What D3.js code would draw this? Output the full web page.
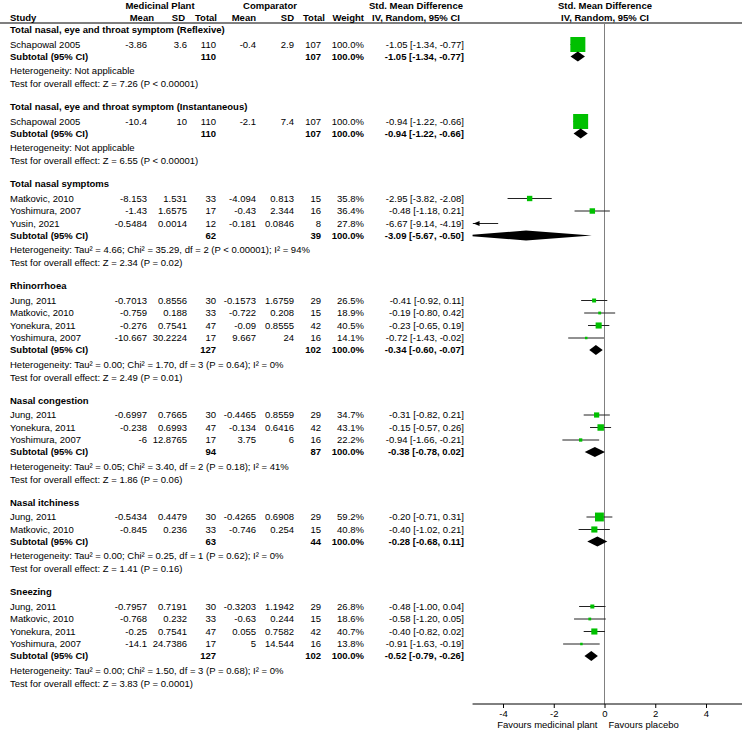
<!DOCTYPE html>
<html>
<head>
<meta charset="utf-8">
<script src="https://cdn.jsdelivr.net/npm/d3@7"></script>
<style>
  body { margin: 0; background: #fff; }
  text { font-family: "Liberation Sans", Arial, sans-serif; font-size: 9.5px; fill: #000; }
  .b { font-weight: bold; }
</style>
</head>
<body>
<div id="chart"></div>
<script>
// subgroups
var groupNames = [
  "Total nasal, eye and throat symptom (Reflexive)",
  "Total nasal, eye and throat symptom (Instantaneous)",
  "Total nasal symptoms",
  "Rhinorrhoea",
  "Nasal congestion",
  "Nasal itchiness",
  "Sneezing"
];

// studies (flat list, studyGroup says which subgroup)
var studyNames = [
  "Schapowal 2005",
  "Schapowal 2005",
  "Matkovic, 2010", "Yoshimura, 2007", "Yusin, 2021",
  "Jung, 2011", "Matkovic, 2010", "Yonekura, 2011", "Yoshimura, 2007",
  "Jung, 2011", "Yonekura, 2011", "Yoshimura, 2007",
  "Jung, 2011", "Matkovic, 2010",
  "Jung, 2011", "Matkovic, 2010", "Yonekura, 2011", "Yoshimura, 2007"
];
var studyGroup = [0, 1, 2, 2, 2, 3, 3, 3, 3, 4, 4, 4, 5, 5, 6, 6, 6, 6];

var mpMean = [-3.86, -10.4, -8.153, -1.43, -0.5484, -0.7013, -0.759, -0.276, -10.667,
  -0.6997, -0.238, -6, -0.5434, -0.845, -0.7957, -0.768, -0.25, -14.1];
var mpSD = [3.6, 10, 1.531, 1.6575, 0.0014, 0.8556, 0.188, 0.7541, 30.2224,
  0.7665, 0.6993, 12.8765, 0.4479, 0.236, 0.7191, 0.232, 0.7541, 24.7386];
var mpN = [110, 110, 33, 17, 12, 30, 33, 47, 17, 30, 47, 17, 30, 33, 30, 33, 47, 17];
var cMean = [-0.4, -2.1, -4.094, -0.43, -0.181, -0.1573, -0.722, -0.09, 9.667,
  -0.4465, -0.134, 3.75, -0.4265, -0.746, -0.3203, -0.63, 0.055, 5];
var cSD = [2.9, 7.4, 0.813, 2.344, 0.0846, 1.6759, 0.208, 0.8555, 24,
  0.8559, 0.6416, 6, 0.6908, 0.254, 1.1942, 0.244, 0.7582, 14.544];
var cN = [107, 107, 15, 16, 8, 29, 15, 42, 16, 29, 42, 16, 29, 15, 29, 15, 42, 16];
var weights = [100.0, 100.0, 35.8, 36.4, 27.8, 26.5, 18.9, 40.5, 14.1,
  34.7, 43.1, 22.2, 59.2, 40.8, 26.8, 18.6, 40.7, 13.8];
var smd = [-1.05, -0.94, -2.95, -0.48, -6.67, -0.41, -0.19, -0.23, -0.72,
  -0.31, -0.15, -0.94, -0.20, -0.40, -0.48, -0.58, -0.40, -0.91];
var ciLow = [-1.34, -1.22, -3.82, -1.18, -9.14, -0.92, -0.80, -0.65, -1.43,
  -0.82, -0.57, -1.66, -0.71, -1.02, -1.00, -1.20, -0.82, -1.63];
var ciHigh = [-0.77, -0.66, -2.08, 0.21, -4.19, 0.11, 0.42, 0.19, -0.02,
  0.21, 0.26, -0.21, 0.31, 0.21, 0.04, 0.05, 0.02, -0.19];

// subtotals
var subMpN = [110, 110, 62, 127, 94, 63, 127];
var subCN = [107, 107, 39, 102, 87, 44, 102];
var subSmd = [-1.05, -0.94, -3.09, -0.34, -0.38, -0.28, -0.52];
var subLow = [-1.34, -1.22, -5.67, -0.60, -0.78, -0.68, -0.79];
var subHigh = [-0.77, -0.66, -0.50, -0.07, 0.02, 0.11, -0.26];
var hetText = [
  "Heterogeneity: Not applicable",
  "Heterogeneity: Not applicable",
  "Heterogeneity: Tau² = 4.66; Chi² = 35.29, df = 2 (P < 0.00001); I² = 94%",
  "Heterogeneity: Tau² = 0.00; Chi² = 1.70, df = 3 (P = 0.64); I² = 0%",
  "Heterogeneity: Tau² = 0.05; Chi² = 3.40, df = 2 (P = 0.18); I² = 41%",
  "Heterogeneity: Tau² = 0.00; Chi² = 0.25, df = 1 (P = 0.62); I² = 0%",
  "Heterogeneity: Tau² = 0.00; Chi² = 1.50, df = 3 (P = 0.68); I² = 0%"
];
var testText = [
  "Test for overall effect: Z = 7.26 (P < 0.00001)",
  "Test for overall effect: Z = 6.55 (P < 0.00001)",
  "Test for overall effect: Z = 2.34 (P = 0.02)",
  "Test for overall effect: Z = 2.49 (P = 0.01)",
  "Test for overall effect: Z = 1.86 (P = 0.06)",
  "Test for overall effect: Z = 1.41 (P = 0.16)",
  "Test for overall effect: Z = 3.83 (P = 0.0001)"
];

var axisTicks = [-4, -2, 0, 2, 4];
var favourLeft = "Favours medicinal plant";
var favourRight = "Favours placebo";

var width = 742, height = 730;
var svg = d3.select("#chart").append("svg")
  .attr("width", width).attr("height", height);

var x = d3.scaleLinear().domain([-4, 4]).range([503, 706]);
var axisY = 704;
var plotLeft = x(-5.2), plotRight = width;

// column right edges
var col = { mpMean: 147, mpSD: 187, mpN: 216, cMean: 256, cSD: 294, cN: 321, w: 364, est: 464 };

function txt(px, py, s, anchor, bold) {
  return svg.append("text").attr("x", px).attr("y", py).attr("dy", "0.35em")
    .attr("text-anchor", anchor || "start").attr("class", bold ? "b" : null).text(s);
}

// header
txt(160, 6, "Medicinal Plant", "middle", true);
txt(270, 6, "Comparator", "middle", true);
txt(416, 6, "Std. Mean Difference", "middle", true);
txt(605, 6, "Std. Mean Difference", "middle", true);
txt(10, 18, "Study", "start", true);
txt(154, 18, "Mean", "end", true);
txt(185, 18, "SD", "end", true);
txt(col.mpN + 1, 18, "Total", "end", true);
txt(col.cMean, 18, "Mean", "end", true);
txt(col.cSD, 18, "SD", "end", true);
txt(col.cN + 4, 18, "Total", "end", true);
txt(col.w, 18, "Weight", "end", true);
txt(416, 18, "IV, Random, 95% CI", "middle", true);
txt(605, 18, "IV, Random, 95% CI", "middle", true);
svg.append("line").attr("x1", 0).attr("x2", width).attr("y1", 23).attr("y2", 23)
  .attr("stroke", "#000").attr("stroke-width", 1.2);

// zero line
svg.append("line").attr("x1", x(0)).attr("x2", x(0)).attr("y1", 23).attr("y2", axisY)
  .attr("stroke", "#808080").attr("stroke-width", 1);

svg.append("clipPath").attr("id", "plotClip").append("rect")
  .attr("x", plotLeft).attr("y", 0).attr("width", plotRight - plotLeft).attr("height", height);
var plot = svg.append("g").attr("clip-path", "url(#plotClip)");

function f2(v) { return v.toFixed(2); }
function ciStr(e, l, h) { return f2(e) + " [" + f2(l) + ", " + f2(h) + "]"; }

// rows
var y = 30;
groupNames.forEach(function (g, gi) {
  txt(10, y, g, "start", true);
  y += 14.5;
  studyNames.forEach(function (s, i) {
    if (studyGroup[i] !== gi) return;
    txt(10, y, s);
    txt(col.mpMean, y, String(mpMean[i]), "end");
    txt(col.mpSD, y, String(mpSD[i]), "end");
    txt(col.mpN, y, String(mpN[i]), "end");
    txt(col.cMean, y, String(cMean[i]), "end");
    txt(col.cSD, y, String(cSD[i]), "end");
    txt(col.cN, y, String(cN[i]), "end");
    txt(col.w, y, weights[i].toFixed(1) + "%", "end");
    txt(col.est, y, ciStr(smd[i], ciLow[i], ciHigh[i]), "end");

    // CI line, arrow when it runs off the left edge
    var lo = Math.max(ciLow[i], x.invert(plotLeft));
    plot.append("line").attr("x1", x(lo)).attr("x2", x(ciHigh[i]))
      .attr("y1", y).attr("y2", y).attr("stroke", "#222").attr("stroke-width", 1);
    if (ciLow[i] < x.invert(plotLeft)) {
      plot.append("path")
        .attr("d", "M" + (plotLeft + 1) + "," + y + "l6,-2.5l0,5z").attr("fill", "#000");
    }
    var side = Math.max(2.5, 15 * weights[i] / 100);
    if (smd[i] > x.invert(plotLeft)) {
      plot.append("rect").attr("x", x(smd[i]) - side / 2).attr("y", y - side / 2)
        .attr("width", side).attr("height", side).attr("fill", "#00c000");
    }
    y += 12.5;
  });
  y -= 0.5;
  txt(10, y, "Subtotal (95% CI)", "start", true);
  txt(col.mpN, y, String(subMpN[gi]), "end", true);
  txt(col.cN, y, String(subCN[gi]), "end", true);
  txt(col.w, y, "100.0%", "end", true);
  txt(col.est, y, ciStr(subSmd[gi], subLow[gi], subHigh[gi]), "end", true);
  plot.append("path")
    .attr("d", "M" + x(subLow[gi]) + "," + y + "L" + x(subSmd[gi]) + "," + (y - 5) +
      "L" + x(subHigh[gi]) + "," + y + "L" + x(subSmd[gi]) + "," + (y + 5) + "Z")
    .attr("fill", "#000");
  y += 14.5;
  txt(10, y, hetText[gi]);
  y += 13;
  txt(10, y, testText[gi]);
  y += 23;
});

// axis
var axis = d3.axisBottom(x).tickValues(axisTicks).tickSize(4).tickPadding(2)
  .tickFormat(function (d) { return String(d); });
var ag = svg.append("g").attr("transform", "translate(0," + axisY + ")").call(axis);
ag.select(".domain").attr("d", "M" + plotLeft + ",0H" + plotRight).attr("stroke", "#000");
ag.selectAll(".tick line").attr("stroke", "#000");
ag.selectAll(".tick text").style("font-family", "Liberation Sans, Arial, sans-serif")
  .style("font-size", "9.5px").attr("fill", "#000");

txt(x(0) - 7, axisY + 21, favourLeft, "end");
txt(x(0) + 4, axisY + 21, favourRight, "start");
</script>
</body>
</html>
